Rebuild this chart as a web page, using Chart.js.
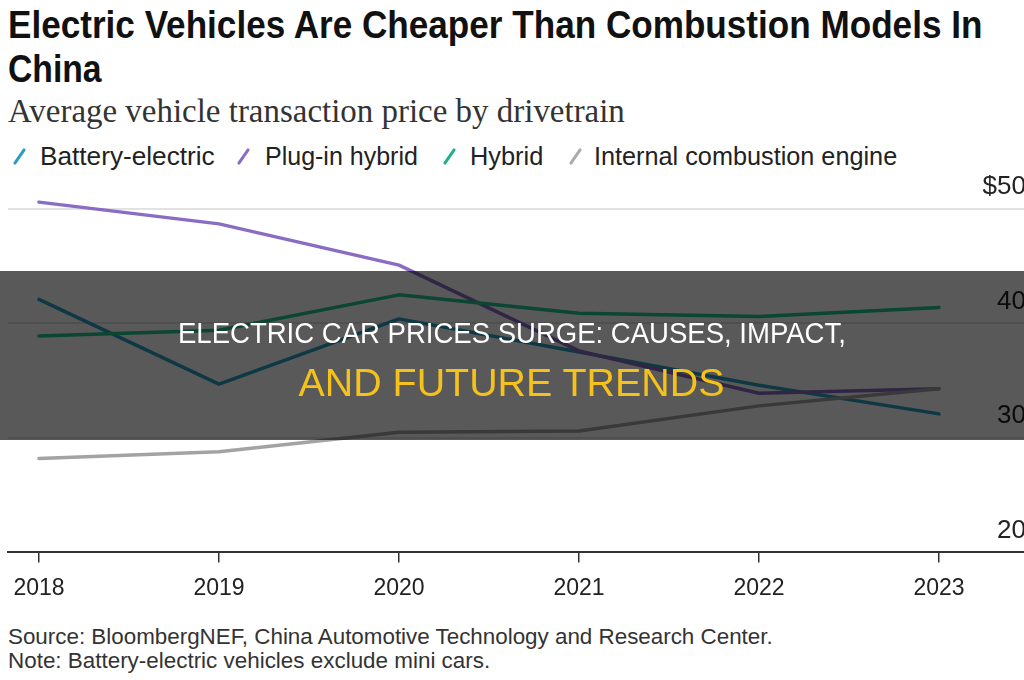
<!DOCTYPE html>
<html>
<head>
<meta charset="utf-8">
<script src="https://cdn.jsdelivr.net/npm/chart.js@4/dist/chart.umd.min.js"></script>
<style>
  html, body { margin: 0; padding: 0; background: #fff; }
  body { width: 1024px; height: 680px; overflow: hidden; position: relative; font-family: "Liberation Sans", Arial, sans-serif; color: #1a1a1a; }
  .fit { position: absolute; white-space: nowrap; display: inline-block; transform-origin: 0 50%; }
  .title { font-weight: bold; font-size: 38px; line-height: 40px; color: #111; }
  .sub { font-family: "Liberation Serif", "DejaVu Serif", serif; font-size: 33px; line-height: 34px; color: #333; }
  .leg { font-size: 25px; line-height: 28px; color: #222; }
  .slash { position: absolute; width: 3px; height: 19px; border-radius: 2px; transform: rotate(35deg); }
  .foot { font-size: 22px; line-height: 24px; color: #333; }
  #wrap { position: absolute; left: 0; top: 170px; width: 1040px; height: 453px; }
  #shade { position: absolute; left: 0; top: 271px; width: 1024px; height: 169px; background: rgba(0,0,0,0.65); }
  .ov { position: absolute; white-space: nowrap; display: inline-block; transform-origin: 50% 50%; }
</style>
</head>
<body>
<div class="fit title" style="left:8px; top:5px" data-w="974">Electric Vehicles Are Cheaper Than Combustion Models In</div>
<div class="fit title" style="left:8px; top:49px" data-w="94">China</div>
<div class="fit sub" style="left:8px; top:94px" data-w="617">Average vehicle transaction price by drivetrain</div>

<span class="slash" style="left:18px; top:147px; background:#2a9cc4"></span>
<div class="fit leg" style="left:40px; top:142px" data-w="175">Battery-electric</div>
<span class="slash" style="left:242px; top:147px; background:#8a6cc2"></span>
<div class="fit leg" style="left:265px; top:142px" data-w="153">Plug-in hybrid</div>
<span class="slash" style="left:448px; top:147px; background:#1fb08e"></span>
<div class="fit leg" style="left:470px; top:142px" data-w="73">Hybrid</div>
<span class="slash" style="left:574px; top:147px; background:#aaaaaa"></span>
<div class="fit leg" style="left:594px; top:142px" data-w="303">Internal combustion engine</div>

<div id="wrap"><canvas id="chart"></canvas></div>

<div class="fit foot" style="left:8px; top:625px" data-w="765">Source: BloombergNEF, China Automotive Technology and Research Center.</div>
<div class="fit foot" style="left:8px; top:649px" data-w="482">Note: Battery-electric vehicles exclude mini cars.</div>

<div id="shade"></div>
<div class="ov" style="color:#fff; font-size:30px; line-height:32px; top:317px" data-w="668" data-c="512">ELECTRIC CAR PRICES SURGE: CAUSES, IMPACT,</div>
<div class="ov" style="color:#f5c21b; font-size:38px; line-height:40px; top:363px" data-w="426" data-c="511">AND FUTURE TRENDS</div>

<script>
// data (thousand USD)
const years = [2018, 2019, 2020, 2021, 2022, 2023];
const batteryElectric = [42.1, 34.7, 40.4, 37.5, 34.6, 32.1];
const plugInHybrid = [50.6, 48.7, 45.1, 37.6, 33.9, 34.3];
const hybrid = [38.9, 39.4, 42.5, 40.9, 40.6, 41.4];
const combustion = [28.2, 28.8, 30.5, 30.6, 32.8, 34.3];
const yTicks = [20, 30, 40, 50];

// squeeze text to the widths seen in the picture
document.querySelectorAll('.fit').forEach(el => {
  const w = el.offsetWidth;
  el.style.transform = `scaleX(${el.dataset.w / w})`;
});
document.querySelectorAll('.ov').forEach(el => {
  const w = el.offsetWidth;
  el.style.left = (el.dataset.c - w / 2) + 'px';
  el.style.transform = `scaleX(${el.dataset.w / w})`;
});

function series(label, values, color) {
  return {
    label,
    data: years.map((x, i) => ({ x, y: values[i] })),
    borderColor: color,
    borderWidth: 3.5,
    pointRadius: 0,
    tension: 0,
    clip: false,
    borderJoinStyle: 'round',
    borderCapStyle: 'round'
  };
}

new Chart(document.getElementById('chart'), {
  type: 'line',
  data: {
    datasets: [
      series('Internal combustion engine', combustion, '#a3a3a3'),
      series('Hybrid', hybrid, '#22c596'),
      series('Plug-in hybrid', plugInHybrid, '#8b6cc3'),
      series('Battery-electric', batteryElectric, '#2aa2c4')
    ]
  },
  options: {
    responsive: true,
    maintainAspectRatio: false,
    animation: false,
    layout: { padding: { left: 8, top: 39, right: 0, bottom: 9 } },
    plugins: { legend: { display: false }, tooltip: { enabled: false } },
    scales: {
      x: {
        type: 'linear',
        min: 2017.828,
        max: 2023.561,
        afterBuildTicks: axis => { axis.ticks = years.map(v => ({ value: v })); },
        grid: { drawOnChartArea: false, drawTicks: true, tickLength: 10, color: '#333', lineWidth: 1.5 },
        border: { color: '#333', width: 2 },
        ticks: {
          color: '#222',
          padding: 12,
          font: { family: 'Liberation Sans', size: 23 },
          maxRotation: 0,
          callback: v => String(v)
        }
      },
      y: {
        position: 'right',
        min: 20,
        max: 50,
        afterBuildTicks: axis => { axis.ticks = yTicks.map(v => ({ value: v })); },
        afterFit: axis => { axis.width = 0; },
        grid: {
          drawTicks: false,
          lineWidth: 2,
          color: ctx => ctx.tick && ctx.tick.value === 20 ? 'rgba(0,0,0,0)' : '#e2e2e2'
        },
        border: { display: false },
        ticks: {
          mirror: true,
          padding: -14,
          labelOffset: -22,
          color: '#222',
          font: { family: 'Liberation Sans', size: 26 },
          callback: v => v === 50 ? '$50' : String(v)
        }
      }
    }
  }
});
</script>
</body>
</html>
